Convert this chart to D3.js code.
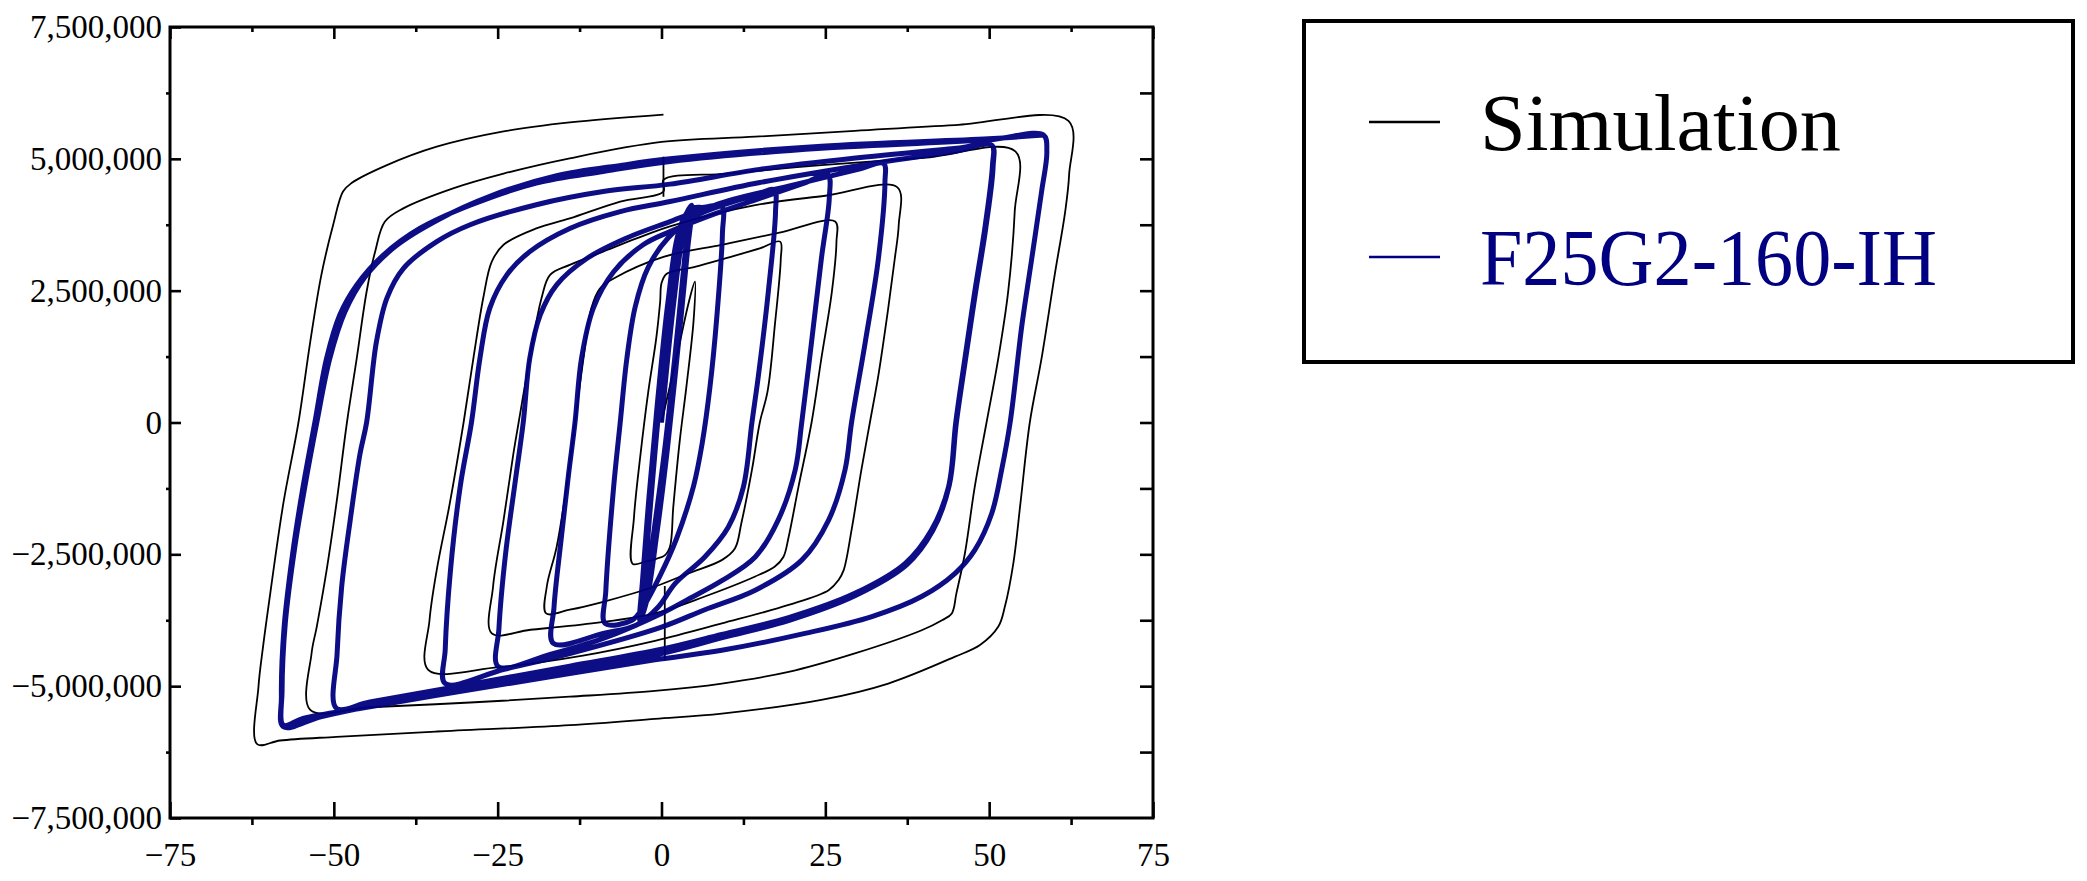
<!DOCTYPE html>
<html>

<head>
  <meta charset="utf-8">
  <title>Simulation vs F25G2-160-IH - hysteresis</title>
  <script src="https://d3js.org/d3.v7.min.js"></script>
  <style>
    body { margin: 0; background: #fff; }
  </style>
</head>

<body>
  <div id="chart"></div>
  <script type="text/javascript">
    // axis ticks
    var xTicks = [-75, -50, -25, 0, 25, 50, 75];
    var xMinor = [-62.5, -37.5, -12.5, 12.5, 37.5, 62.5];
    var yTicks = [-7500000, -5000000, -2500000, 0, 2500000, 5000000, 7500000];
    var yMinor = [-6250000, -3750000, -1250000, 1250000, 3750000, 6250000];
    var yRight = [-6250000, -5000000, -3750000, -2500000, -1250000, 0, 1250000, 2500000, 3750000, 5000000, 6250000];

    var seriesNames = ["Simulation", "F25G2-160-IH"];

    // Simulation (black), one branch group per amplitude
    var simLoop5 = [[0, 0], [2.5, 1.35e6], [4.2, 2.3e6], [5.1, 2.67e6], [4.9, 1.94e6], [3.8, 0.68e6], [2.8, -0.33e6], [1.8, -1.6e6], [1.3, -2.35e6], [0.5, -2.52e6], [-0.7, -2.58e6], [-2.5, -2.64e6], [-4.4, -2.68e6], [-4.2, -1.8e6], [-3.2, -0.6e6], [-2.0, 0.6e6], [-0.8, 1.6e6], [-0.2, 2.3e6], [0, 2.64e6], [0.8, 2.82e6], [5.1, 2.95e6], [10, 3.12e6], [15, 3.3e6], [18.1, 3.43e6]];
    var simLoop18 = [[18.2, 3.1e6], [17.3, 1.85e6], [16.2, 0.6e6], [15.0, 0], [13.8, -0.9e6], [12.2, -1.9e6], [11.2, -2.39e6], [9.2, -2.61e6], [4.1, -2.86e6], [-1, -3.11e6], [-8.9, -3.4e6], [-14, -3.55e6], [-17.6, -3.62e6], [-17.5, -3.11e6], [-16, -2.36e6], [-14.5, -1.22e6], [-13.2, 0], [-11.9, 1.22e6], [-10.7, 2.17e6], [-9.4, 2.54e6], [-7.3, 2.73e6], [0.3, 3.14e6], [9.2, 3.37e6], [18, 3.6e6], [26.5, 3.81e6]];
    var simLoop26 = [[26.7, 3.43e6], [26.0, 2.48e6], [24.4, 1.22e6], [22.9, 0], [20.9, -1.22e6], [19.4, -2.17e6], [18.6, -2.55e6], [17.3, -2.73e6], [14.3, -2.92e6], [6.6, -3.3e6], [-1, -3.62e6], [-10, -3.8e6], [-20, -3.93e6], [-25.9, -4.0e6], [-25.7, -3.11e6], [-24.1, -1.85e6], [-22.6, -0.59e6], [-21.8, 0], [-20.1, 1.22e6], [-18.3, 2.36e6], [-17, 2.8e6], [-14, 2.99e6], [-8.9, 3.24e6], [-3.8, 3.49e6], [1.3, 3.72e6], [14.3, 4.12e6], [25, 4.3e6], [36, 4.46e6]];
    var simLoop36 = [[36.2, 3.75e6], [35.6, 3.11e6], [34.6, 2.17e6], [33.1, 0.9e6], [31.8, 0], [30.5, -0.9e6], [29, -2.04e6], [27.8, -2.8e6], [27, -2.99e6], [25.5, -3.18e6], [19.4, -3.46e6], [9.2, -3.81e6], [-1, -4.14e6], [-12, -4.42e6], [-24.9, -4.64e6], [-35.6, -4.69e6], [-35.4, -3.75e6], [-34.3, -2.8e6], [-32.3, -1.53e6], [-30.2, 0], [-28.7, 1.22e6], [-27.2, 2.36e6], [-25.9, 3.05e6], [-24.1, 3.37e6], [-19.1, 3.68e6], [-14, 3.87e6], [-6.3, 4.19e6], [0.3, 4.38e6], [0.3, 4.6e6], [10, 4.72e6], [24.4, 4.88e6], [40, 5.02e6], [54, 5.14e6]];
    var simLoop54 = [[53.9, 4.0e6], [52.9, 2.48e6], [51.4, 1.22e6], [49.6, 0], [47.8, -1.22e6], [46.3, -2.48e6], [45, -3.24e6], [44.3, -3.62e6], [42.8, -3.75e6], [39.7, -3.94e6], [29.5, -4.38e6], [19.4, -4.73e6], [9.2, -4.95e6], [-1, -5.09e6], [-14, -5.2e6], [-29.2, -5.31e6], [-44.5, -5.4e6], [-53.6, -5.45e6], [-53.4, -4.38e6], [-52.6, -3.87e6], [-51.1, -2.8e6], [-49.6, -1.53e6], [-48, 0], [-46.5, 1.22e6], [-45, 2.48e6], [-43.7, 3.24e6], [-42.2, 3.81e6], [-39.4, 4.06e6], [-31.8, 4.44e6], [-24.1, 4.72e6], [-14, 5.01e6], [0, 5.32e6], [14.3, 5.42e6], [29.5, 5.53e6], [44.8, 5.64e6], [62.1, 5.72e6]];
    var simLoop62 = [[62.2, 4.7e6], [61.6, 4.0e6], [60, 2.8e6], [58, 1.22e6], [56.2, 0], [54.8, -1.5e6], [53.7, -2.66e6], [52.4, -3.49e6], [51.4, -3.87e6], [48.6, -4.22e6], [44.8, -4.44e6], [34.6, -4.95e6], [24.4, -5.26e6], [9.2, -5.52e6], [-1, -5.62e6], [-14, -5.74e6], [-34.3, -5.86e6], [-49.6, -5.96e6], [-58.2, -6.03e6], [-61.7, -6.1e6], [-61.5, -5.01e6], [-60.8, -4.25e6], [-59.7, -3.24e6], [-57.7, -1.53e6], [-55.4, 0], [-53.6, 1.53e6], [-51.9, 2.8e6], [-50.1, 3.75e6], [-48.6, 4.38e6], [-47.3, 4.54e6], [-41.9, 4.88e6], [-34.3, 5.23e6], [-24.1, 5.52e6], [-14, 5.69e6], [0.3, 5.84e6]];
    var simStepUpper = [[0.3, 4.28e6], [0.3, 5.04e6]];
    var simStepLower = [[0.5, -3.1e6], [0.5, -4.5e6]];

    // F25G2-160-IH test (navy)
    var specSmall = [[0, 0], [1.8, 2.2e6], [3.3, 3.6e6], [4.2, 4.0e6], [3.6, 3.2e6], [2, 1.2e6], [0.4, -0.6e6], [-1.3, -2.2e6], [-2.6, -3.4e6], [-3, -3.7e6], [-2.6, -3.0e6], [-1.5, -1.3e6], [-0.2, 0.5e6], [1.5, 2.4e6], [3, 3.7e6], [4.6, 4.12e6], [4, 3.3e6], [2.5, 1.4e6], [0.9, -0.5e6], [-0.7, -2.1e6], [-2.3, -3.4e6], [-3.3, -3.75e6], [-2.9, -3.0e6], [-1.9, -1.4e6], [-0.6, 0.4e6], [1, 2.3e6], [2.6, 3.6e6], [4.4, 4.05e6], [6.5, 4.08e6], [9.2, 4.1e6]];
    var spec9 = [[9.3, 3.6e6], [8.4, 1.94e6], [7.4, 0.68e6], [6.2, -0.4e6], [4.9, -1.2e6], [2.3, -2.2e6], [-0.2, -2.9e6], [-2.8, -3.5e6], [-4.5, -3.75e6], [-8.6, -3.81e6], [-8.5, -3.2e6], [-7.3, -1.22e6], [-6.3, 0], [-5.3, 1.2e6], [-4, 2.2e6], [-2, 2.95e6], [1, 3.5e6], [5, 3.9e6], [10, 4.15e6], [14.5, 4.32e6], [17.2, 4.41e6]];
    var spec17 = [[17.4, 4.0e6], [16.3, 2.48e6], [14.8, 0.9e6], [13.8, 0], [12.5, -1.22e6], [10.2, -1.98e6], [6.6, -2.55e6], [2.1, -3.05e6], [-0.5, -3.5e6], [-3.8, -3.84e6], [-8.9, -4.0e6], [-16.5, -4.19e6], [-16.4, -3.5e6], [-15.3, -2.2e6], [-14.2, -1.0e6], [-13.2, 0], [-12.2, 1.22e6], [-10.4, 2.17e6], [-7.3, 2.86e6], [-2.8, 3.37e6], [1.3, 3.62e6], [8, 3.95e6], [15, 4.25e6], [22, 4.55e6], [25.4, 4.69e6]];
    var spec25 = [[25.6, 4.25e6], [24.4, 3.11e6], [22.9, 1.53e6], [21.4, 0], [20.4, -0.9e6], [17.8, -1.85e6], [14.3, -2.55e6], [9.2, -3.0e6], [4.1, -3.35e6], [0, -3.62e6], [-9, -4.1e6], [-17, -4.4e6], [-24.9, -4.63e6], [-24.8, -3.9e6], [-23.8, -2.5e6], [-22.3, -1.1e6], [-21.1, 0], [-20.1, 1.22e6], [-18.5, 2.04e6], [-16, 2.61e6], [-11.4, 3.11e6], [-5.3, 3.5e6], [1.3, 3.81e6], [10, 4.2e6], [20, 4.5e6], [30, 4.8e6], [33.9, 4.91e6]];
    var spec34 = [[34.1, 4.57e6], [33.1, 3.11e6], [31.1, 1.53e6], [29, 0], [28, -0.9e6], [25.5, -1.85e6], [21.4, -2.61e6], [14.3, -3.18e6], [6.6, -3.55e6], [0, -3.88e6], [-14, -4.38e6], [-24, -4.68e6], [-33, -4.95e6], [-33, -4.3e6], [-32.2, -2.8e6], [-30.7, -1.2e6], [-29, 0], [-27.7, 1.22e6], [-26.2, 2.17e6], [-23.6, 2.8e6], [-20.1, 3.24e6], [-14, 3.68e6], [-6.3, 4.0e6], [1.3, 4.19e6], [15, 4.55e6], [30, 4.87e6], [45, 5.15e6], [50.4, 5.26e6]];
    var spec50a = [[50.5, 4.88e6], [49.4, 3.74e6], [47.8, 2.48e6], [46.3, 1.22e6], [44.9, 0], [43.8, -1.22e6], [41.2, -2.04e6], [37.2, -2.67e6], [29.5, -3.24e6], [19.4, -3.7e6], [9.2, -4.02e6], [0, -4.3e6], [-14, -4.62e6], [-30, -4.98e6], [-44.5, -5.3e6], [-49.6, -5.42e6], [-49.5, -4.38e6], [-48.8, -3.11e6], [-47.5, -1.85e6], [-46, -0.59e6], [-45, 0], [-43.5, 1.53e6], [-41.9, 2.36e6], [-39.4, 2.92e6], [-34.3, 3.43e6], [-29.2, 3.75e6], [-19.1, 4.13e6], [-8.9, 4.38e6], [1.3, 4.52e6], [15, 4.8e6], [30, 5.02e6], [45, 5.2e6], [50.4, 5.26e6]];
    var spec50b = [[50.6, 4.85e6], [49.5, 3.7e6], [47.9, 2.45e6], [46.4, 1.2e6], [45, 0], [43.9, -1.2e6], [41.4, -2.05e6], [37.4, -2.7e6], [29.6, -3.28e6], [19.5, -3.75e6], [9.3, -4.08e6], [0, -4.38e6], [-14, -4.7e6], [-30, -5.05e6], [-44.5, -5.38e6], [-52, -5.58e6], [-57.7, -5.77e6], [-58, -5.2e6], [-57.6, -3.9e6], [-56.3, -2.5e6], [-54.7, -1.22e6], [-52.9, 0], [-51.1, 1.22e6], [-49.1, 2.04e6], [-46.5, 2.61e6], [-42.4, 3.18e6], [-36.9, 3.68e6], [-29.2, 4.12e6], [-19.1, 4.54e6], [-8.9, 4.76e6], [1.3, 4.95e6], [24.4, 5.2e6], [49.9, 5.36e6], [58.3, 5.45e6]];
    var spec58 = [[58.8, 5.14e6], [58, 4.38e6], [56.5, 3.11e6], [55, 1.85e6], [53.2, 0], [51.9, -0.9e6], [50.4, -1.72e6], [47.8, -2.42e6], [44.8, -2.86e6], [39.7, -3.3e6], [32.1, -3.68e6], [21.9, -4.0e6], [9.2, -4.32e6], [-1, -4.5e6], [-14, -4.76e6], [-29.2, -5.07e6], [-44.5, -5.39e6], [-54.7, -5.61e6], [-57.7, -5.74e6], [-57.9, -5.1e6], [-57.4, -3.8e6], [-56, -2.4e6], [-54.4, -1.2e6], [-52.6, 0], [-50.6, 1.22e6], [-48.3, 2.1e6], [-45.3, 2.75e6], [-40.5, 3.35e6], [-34, 3.85e6], [-26, 4.3e6], [-16, 4.68e6], [-6, 4.88e6], [1.3, 5.0e6], [24.4, 5.24e6], [49.9, 5.38e6], [58.3, 5.45e6]];

    var simulation = [].concat(simLoop5, simLoop18, simLoop26, simLoop36, simLoop54, simLoop62);
    var specimen = [].concat(specSmall, spec9, spec17, spec25, spec34, spec50a, spec50b, spec58);

    var W = 2087, H = 881;
    var plot = { left: 170, right: 1153, top: 27, bottom: 818 };
    var fontFamily = '"Liberation Serif", "Times New Roman", serif';
    var navy = "#000080";

    var svg = d3.select("#chart").append("svg")
      .attr("width", W)
      .attr("height", H);

    var x = d3.scaleLinear().domain([-75, 75]).range([plot.left, plot.right]);
    var y = d3.scaleLinear().domain([-7500000, 7500000]).range([plot.bottom, plot.top]);

    var line = d3.line()
      .x(function (d) { return x(d[0]); })
      .y(function (d) { return y(d[1]); })
      .curve(d3.curveCatmullRom.alpha(0.5));

    svg.append("clipPath").attr("id", "clip")
      .append("rect")
      .attr("x", plot.left).attr("y", plot.top)
      .attr("width", plot.right - plot.left).attr("height", plot.bottom - plot.top);

    var curves = svg.append("g").attr("clip-path", "url(#clip)");

    curves.selectAll(".sim")
      .data([simulation, simStepUpper, simStepLower])
      .enter().append("path")
      .attr("class", "sim")
      .attr("d", line)
      .attr("fill", "none")
      .attr("stroke", "#000")
      .attr("stroke-width", 1.8)
      .attr("stroke-linejoin", "round");

    curves.append("path")
      .datum(specimen)
      .attr("d", line)
      .attr("fill", "none")
      .attr("stroke", navy)
      .attr("stroke-width", 5)
      .attr("stroke-linejoin", "round")
      .attr("stroke-opacity", 0.95);

    function styleAxis(g) {
      g.select(".domain").remove();
      g.selectAll("line").attr("stroke", "#000").attr("stroke-width", 2.6);
      g.selectAll("text").attr("fill", "#000");
      g.attr("font-family", fontFamily).attr("font-size", 33);
    }

    var fmt = d3.format(",");

    // bottom
    svg.append("g").attr("transform", "translate(0," + plot.bottom + ")")
      .call(d3.axisBottom(x).tickValues(xTicks).tickSize(-16).tickPadding(25).tickFormat(d3.format("d")))
      .call(styleAxis);
    svg.append("g").attr("transform", "translate(0," + plot.bottom + ")")
      .call(d3.axisBottom(x).tickValues(xMinor).tickSize(7).tickFormat(""))
      .call(styleAxis);
    // top
    svg.append("g").attr("transform", "translate(0," + plot.top + ")")
      .call(d3.axisTop(x).tickValues(xTicks).tickSize(-12).tickFormat(""))
      .call(styleAxis);
    svg.append("g").attr("transform", "translate(0," + plot.top + ")")
      .call(d3.axisTop(x).tickValues(xMinor).tickSize(-5).tickFormat(""))
      .call(styleAxis);
    // left
    svg.append("g").attr("transform", "translate(" + plot.left + ",0)")
      .call(d3.axisLeft(y).tickValues(yTicks).tickSize(-11).tickPadding(8).tickFormat(fmt))
      .call(styleAxis);
    svg.append("g").attr("transform", "translate(" + plot.left + ",0)")
      .call(d3.axisLeft(y).tickValues(yMinor).tickSize(4).tickFormat(""))
      .call(styleAxis);
    // right
    svg.append("g").attr("transform", "translate(" + plot.right + ",0)")
      .call(d3.axisRight(y).tickValues(yRight).tickSize(-13).tickFormat(""))
      .call(styleAxis);

    svg.append("rect")
      .attr("x", plot.left).attr("y", plot.top)
      .attr("width", plot.right - plot.left).attr("height", plot.bottom - plot.top)
      .attr("fill", "none").attr("stroke", "#000").attr("stroke-width", 3);

    // legend
    var legend = svg.append("g");
    legend.append("rect")
      .attr("x", 1304).attr("y", 21).attr("width", 769).attr("height", 341)
      .attr("fill", "none").attr("stroke", "#000").attr("stroke-width", 4);
    var legendColors = ["#000", navy];
    var legendWidths = [361, 457];
    var items = legend.selectAll(".item").data(seriesNames).enter().append("g")
      .attr("class", "item")
      .attr("transform", function (d, i) { return "translate(0," + (122 + i * 135) + ")"; });
    items.append("line")
      .attr("x1", 1369).attr("x2", 1440).attr("y1", 0).attr("y2", 0)
      .attr("stroke", function (d, i) { return legendColors[i]; })
      .attr("stroke-width", 2.5);
    items.append("text")
      .attr("x", 1480).attr("y", 28)
      .attr("font-family", fontFamily).attr("font-size", 80)
      .attr("textLength", function (d, i) { return legendWidths[i]; })
      .attr("lengthAdjust", "spacingAndGlyphs")
      .attr("fill", function (d, i) { return legendColors[i]; })
      .text(function (d) { return d; });
  </script>
</body>

</html>
